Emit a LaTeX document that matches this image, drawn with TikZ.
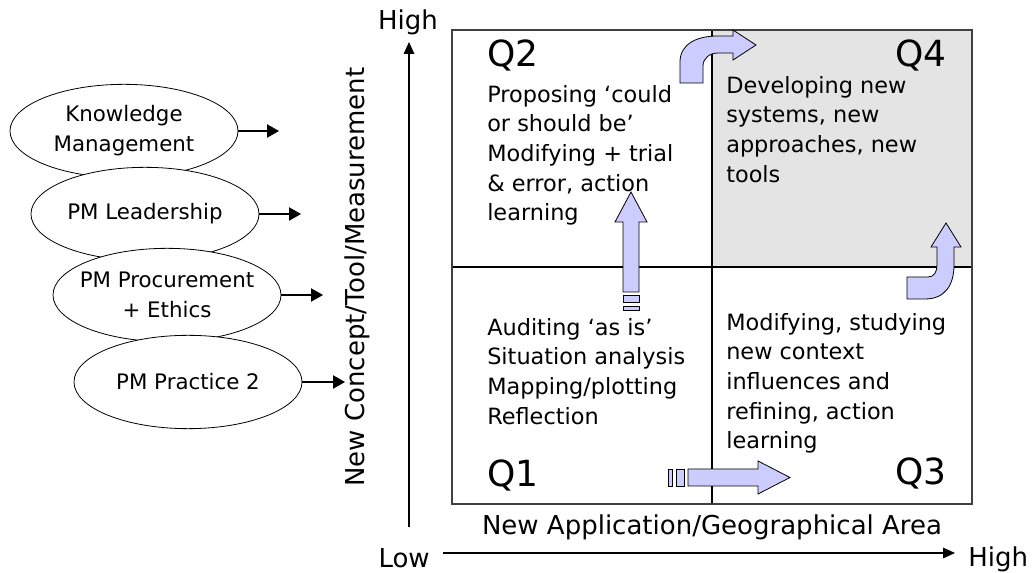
\documentclass[tikz,border=0pt]{standalone}
\usepackage{fontspec}
\setmainfont{DejaVu Sans}
\usetikzlibrary{shapes.geometric,arrows.meta}
\definecolor{blockblue}{HTML}{CCCCFF}
\definecolor{qgray}{HTML}{E4E4E4}
\definecolor{boxgray}{HTML}{404040}

\begin{document}
\begin{tikzpicture}[x=0.75pt,y=-0.75pt,
	topic/.style={ellipse,minimum width=171pt,minimum height=70pt,inner xsep=-10pt,inner ysep=-4pt,draw=black,fill=white,line width=0.6pt,align=center,font=\fontsize{16}{22.5}\selectfont},
	qtext/.style={anchor=north west,inner sep=0pt,align=left,font=\fontsize{16.8}{22.2}\selectfont},
	qlabel/.style={inner sep=0pt,font=\fontsize{27}{30}\selectfont},
	axistext/.style={inner sep=0pt,font=\fontsize{19.5}{22}\selectfont},
	block/.style={fill=blockblue,draw=black,line width=0.6pt},
	axis/.style={line width=0.8pt,-{Triangle[length=9pt,width=8pt]}},
	feed/.style={line width=0.8pt,-{Triangle[length=9pt,width=10pt]}}]
	\useasboundingbox (0,0) rectangle (1036,573);
	\coordinate (nw) at (452,30);
	\coordinate (se) at (972,504);
	\coordinate (mid) at (712,267);
	\fill[qgray] (mid |- nw) rectangle (se |- mid);
	\draw[line width=0.9pt] (mid |- nw) -- (mid |- se);
	\draw[line width=0.9pt] (nw |- mid) -- (se |- mid);
	\draw[boxgray,line width=1.3pt] (nw) rectangle (se);
	\node[topic] (km) at (124,131) {Knowledge\\Management};
	\node[topic] (pml) at (145,214) {PM Leadership};
	\node[topic] (pmp) at (167,295) {PM Procurement\\+ Ethics};
	\node[topic] (pmpr) at (188,382) {PM Practice 2};
	\coordinate (km-out) at (279,131);
	\coordinate (pml-out) at (301,214);
	\coordinate (pmp-out) at (323,295);
	\coordinate (pmpr-out) at (345,382);
	\draw[feed] (km) -- (km-out);
	\draw[feed] (pml) -- (pml-out);
	\draw[feed] (pmp) -- (pmp-out);
	\draw[feed] (pmpr) -- (pmpr-out);
	\coordinate (ybot) at (409,527);
	\coordinate (ytop) at (409,42);
	\coordinate (xbeg) at (443,553);
	\coordinate (xend) at (955,553);
	\draw[axis] (ybot) -- (ytop);
	\draw[axis] (xbeg) -- (xend);
	\node[axistext,anchor=base] (yhigh) at (408,30) {High};
	\node[axistext,anchor=base east] (xlow) at (430,567) {Low};
	\node[axistext,anchor=base west] (xhigh) at (968,566) {High};
	\node[axistext,anchor=base,rotate=90] (ylabel) at (364,277) {New Concept/Tool/Measurement};
	\node[axistext,anchor=base] (xlabel) at (712,535) {New Application/Geographical Area};
	\node[qlabel,anchor=base west] (q2) at (487,67) {Q2};
	\node[qlabel,anchor=base east] (q4) at (947,67) {Q4};
	\node[qlabel,anchor=base west] (q1) at (487,487) {Q1};
	\node[qlabel,anchor=base east] (q3) at (947,485) {Q3};
	\node[qtext] (q2text) at (487,85) {Proposing ‘could\\or should be’\\Modifying + trial\\\& error, action\\learning};
	\node[qtext] (q4text) at (726,76) {Developing new\\systems, new\\approaches, new\\tools};
	\node[qtext] (q1text) at (487,318) {Auditing ‘as is’\\Situation analysis\\Mapping/plotting\\Reflection};
	\node[qtext] (q3text) at (726,313) {Modifying, studying\\new context\\influences and\\refining, action\\learning};
	\draw[block] (623,292) -- (623,222) -- (615,222) -- (631,192) -- (647,222) -- (639,222) -- (639,292) -- cycle;
	\draw[block] (623,295) rectangle (639,302);
	\draw[block] (623,306) rectangle (639,310);
	\draw[block] (688,469) -- (758,469) -- (758,461) -- (790,477.5) -- (758,494) -- (758,486) -- (688,486) -- cycle;
	\draw[block] (676,469) rectangle (684,486);
	\draw[block] (668,469) rectangle (672,486);
	\draw[block] (680,83) -- (680,62) .. controls (680,45) and (695,36) .. (718,36) -- (733,36) -- (733,30) -- (756,45) -- (733,60) -- (733,53) -- (718,53) .. controls (710,53) and (703,58) .. (703,66) -- (703,83) -- cycle;
	\draw[block] (907,277) -- (928,277) .. controls (934,277) and (937,272) .. (937,265) -- (937,247) -- (931,247) -- (946,223) -- (961,247) -- (954,247) -- (954,265) .. controls (954,285) and (945,299) .. (925,299) -- (907,299) -- cycle;
\end{tikzpicture}
\end{document}
